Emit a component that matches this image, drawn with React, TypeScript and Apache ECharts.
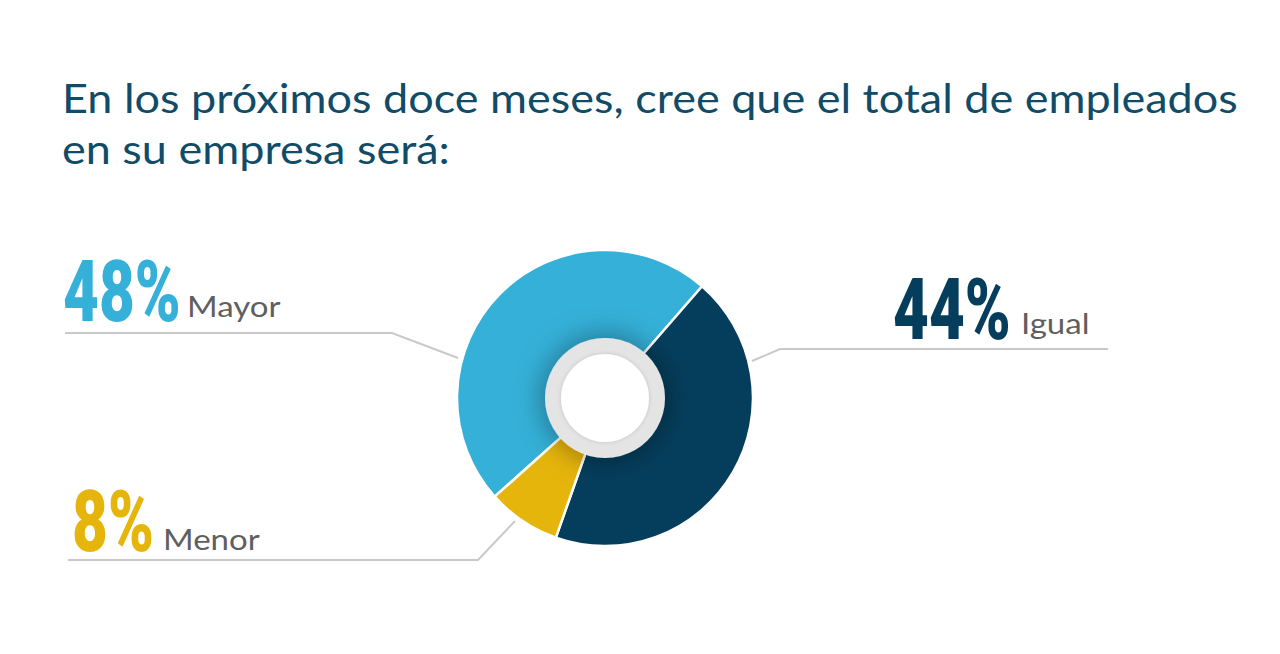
import React, { useEffect, useRef } from "react";
import * as echarts from "echarts";

const titleLines = [
  "En los próximos doce meses, cree que el total de empleados",
  "en su empresa será:",
];
const categories = ["Mayor", "Igual", "Menor"];
const values = [48, 44, 8];
const colors = ["#35b0d8", "#053e5c", "#e6b50c"];

// label layout (positions only)
const layout = [
  { numX: 63, numY: 291, nameX: 187, nameY: 306, line: [[65, 333], [392, 333], [458, 358]] },
  { numX: 893, numY: 309, nameX: 1021, nameY: 323, line: [[1108, 349], [780, 349], [752, 361]] },
  { numX: 72, numY: 521, nameX: 163, nameY: 539, line: [[68, 560], [478, 560], [515, 521]] },
];

export default function App() {
  const ref = useRef<HTMLDivElement>(null);
  useEffect(() => {
    if (!ref.current) return;
    const chart = echarts.init(ref.current, undefined, { renderer: "svg" });
    const graphics: any[] = [];
    titleLines.forEach((t, i) => {
      graphics.push({
        type: "text",
        x: 62,
        y: 97 + i * 51,
        scaleX: 1.125,
        z: 100,
        style: { text: t, fill: "#104b67", font: "400 40px Lato", verticalAlign: "middle" },
      });
    });
    categories.forEach((c, i) => {
      const L = layout[i];
      graphics.push({
        type: "polyline",
        z: 50,
        shape: { points: L.line },
        style: { stroke: "#c9c9c9", lineWidth: 2, fill: null },
      });
      graphics.push({
        type: "text",
        x: L.numX,
        y: L.numY,
        scaleX: 0.72,
        z: 100,
        style: { text: values[i] + "%", fill: colors[i], font: "900 86px Roboto", verticalAlign: "middle" },
      });
      graphics.push({
        type: "text",
        x: L.nameX,
        y: L.nameY,
        scaleX: 1.18,
        z: 100,
        style: { text: c, fill: "#5f5f5f", font: "400 28px Lato", verticalAlign: "middle" },
      });
    });
    graphics.push({
      type: "ring",
      z: 100,
      shape: { cx: 605, cy: 398, r: 60, r0: 44 },
      style: { fill: "#e4e4e4", shadowBlur: 28, shadowColor: "rgba(0,0,0,0.5)" },
    });
    graphics.push({
      type: "circle",
      z: 101,
      shape: { cx: 605, cy: 398, r: 44 },
      style: { fill: "#ffffff", shadowBlur: 4, shadowColor: "rgba(0,0,0,0.15)" },
    });
    chart.setOption({
      animation: false,
      backgroundColor: "#ffffff",
      graphic: { elements: graphics },
      series: [
        {
          type: "pie",
          center: [605, 398],
          radius: [50, 148],
          startAngle: 221.8,
          clockwise: true,
          silent: true,
          label: { show: false },
          labelLine: { show: false },
          itemStyle: { borderColor: "#ffffff", borderWidth: 2.5 },
          data: categories.map((c, i) => ({ name: c, value: values[i], itemStyle: { color: colors[i] } })),
        },
      ],
    });
    return () => chart.dispose();
  }, []);
  return <div ref={ref} style={{ position: "absolute", left: 0, top: 0, width: 1280, height: 654 }} />;
}
